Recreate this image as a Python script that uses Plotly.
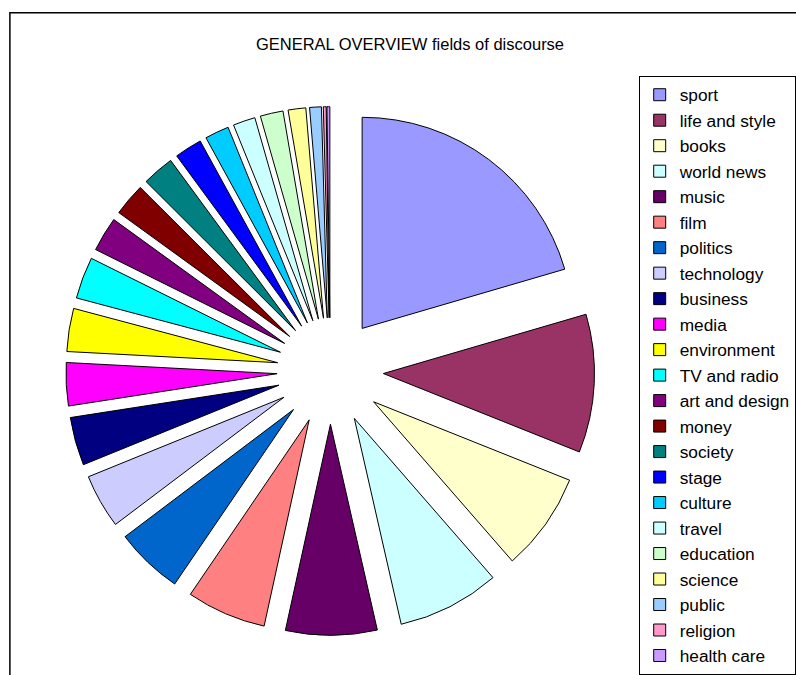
import plotly.graph_objects as go

categories = ["sport", "life and style", "books", "world news", "music", "film",
              "politics", "technology", "business", "media", "environment",
              "TV and radio", "art and design", "money", "society", "stage",
              "culture", "travel", "education", "science", "public", "religion",
              "health care"]
shares = [20.5, 10.6, 7.55, 7.85, 7.0, 6.1, 5.2, 4.15, 3.7, 3.3, 3.3, 3.2, 2.65,
          2.5, 2.45, 2.1, 1.85, 1.7, 1.75, 1.35, 0.9, 0.22, 0.22]
colors = ["#9999FF", "#993366", "#FFFFCC", "#CCFFFF", "#660066", "#FF8080",
          "#0066CC", "#CCCCFF", "#000080", "#FF00FF", "#FFFF00", "#00FFFF",
          "#800080", "#800000", "#008080", "#0000FF", "#00CCFF", "#CCFFFF",
          "#CCFFCC", "#FFFF99", "#99CCFF", "#FF99CC", "#CC99FF"]

W, H = 796, 675
FONT = "Arial, 'Liberation Sans', sans-serif"

fig = go.Figure(go.Pie(
    labels=categories,
    values=shares,
    sort=False,
    direction="clockwise",
    rotation=0,
    pull=[0.252] * len(categories),
    marker=dict(colors=colors, line=dict(color="black", width=1)),
    textinfo="none",
    hoverinfo="label+percent",
    domain=dict(x=[66.1 / W, 601.9 / W], y=[1 - 643.9 / H, 1 - 108.1 / H]),
))

fig.update_layout(
    width=W, height=H,
    autosize=False,
    margin=dict(l=0, r=0, t=0, b=0),
    paper_bgcolor="white",
    plot_bgcolor="white",
    font=dict(family=FONT, color="black"),
    title=dict(text="GENERAL OVERVIEW fields of discourse",
               x=410 / W, xanchor="center", y=1 - 44 / H, yanchor="middle",
               font=dict(family=FONT, size=16.5, color="black")),
    legend=dict(x=646 / W, xanchor="left", y=1 - 77 / H, yanchor="top",
                bordercolor="black", borderwidth=1, bgcolor="white",
                font=dict(family=FONT, size=17.3, color="black"),
                traceorder="normal"),
    shapes=[dict(type="rect", xref="paper", yref="paper",
                 x0=10 / W, x1=1.05, y0=-0.05, y1=1 - 13 / H,
                 line=dict(color="black", width=1.5), layer="below")],
    showlegend=True,
)

fig.write_html("out.html", config={"displayModeBar": False},
               post_script="document.body.style.margin='0px';")
